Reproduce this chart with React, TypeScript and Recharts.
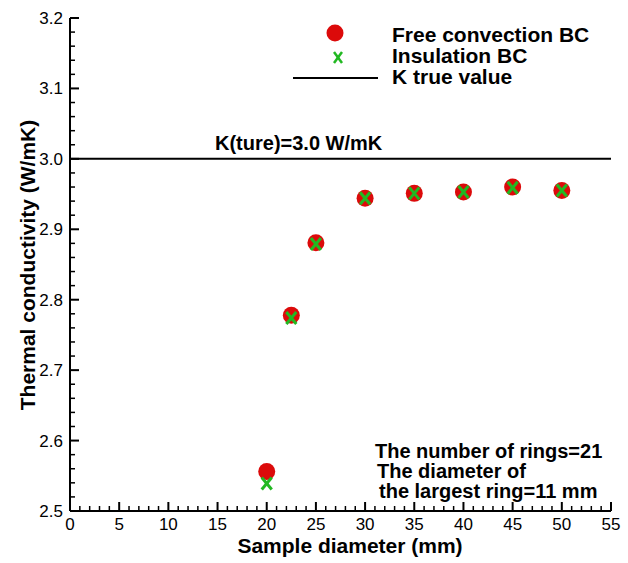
import React from 'react'
import {
  ScatterChart,
  Scatter,
  XAxis,
  YAxis,
  ReferenceLine,
  Customized
} from 'recharts'

// sample diameters (mm)
const DIAMETERS = [20, 22.5, 25, 30, 35, 40, 45, 50]
// thermal conductivity, free convection boundary
const FREE_CONV = [2.556, 2.778, 2.881, 2.944, 2.951, 2.953, 2.96, 2.955]
// thermal conductivity, insulation boundary
const INSULATION = [2.539, 2.774, 2.879, 2.944, 2.951, 2.953, 2.959, 2.955]
const K_TRUE = 3.0

const X_MAJOR = [0, 5, 10, 15, 20, 25, 30, 35, 40, 45, 50, 55]
const Y_MAJOR = [2.5, 2.6, 2.7, 2.8, 2.9, 3.0, 3.1, 3.2]

const RED = '#dc0a0a'
const GREEN = '#22b822'
const FONT = '"Liberation Sans", Arial, sans-serif'

const xTicks: number[] = []
for (let i = 0; i <= 55; i++) xTicks.push(i)
const yTicks: number[] = []
for (let i = 250; i <= 320; i += 2) yTicks.push(i / 100)

const freeData = DIAMETERS.map((d, i) => ({ x: d, y: FREE_CONV[i] }))
const insData = DIAMETERS.map((d, i) => ({ x: d, y: INSULATION[i] }))

const XTick = (props: any) => {
  const { x, y, payload } = props
  const major = X_MAJOR.includes(payload.value)
  return (
    <g>
      <line x1={x} x2={x} y1={y} y2={y - (major ? 9 : 5)} stroke='#000' strokeWidth={major ? 2 : 1.5} />
      {major && (
        <text x={x} y={y + 19} textAnchor='middle' fontSize={17} fontFamily={FONT} fill='#000'>
          {payload.value}
        </text>
      )}
    </g>
  )
}

const YTick = (props: any) => {
  const { x, y, payload } = props
  const v = Math.round(payload.value * 100)
  const major = Y_MAJOR.some((t) => Math.round(t * 100) === v)
  return (
    <g>
      <line x1={x} x2={x + (major ? 9 : 5)} y1={y} y2={y} stroke='#000' strokeWidth={major ? 2 : 1.5} />
      {major && (
        <text x={x - 7} y={y + 6} textAnchor='end' fontSize={17} fontFamily={FONT} fill='#000'>
          {(v / 100).toFixed(1)}
        </text>
      )}
    </g>
  )
}

const Dot = (props: any) => <circle cx={props.cx} cy={props.cy} r={8.5} fill={RED} />

const Cross = (props: any) => {
  const { cx, cy } = props
  return (
    <g stroke={GREEN} strokeWidth={3}>
      <line x1={cx - 5} y1={cy - 6} x2={cx + 5} y2={cy + 6} />
      <line x1={cx + 5} y1={cy - 6} x2={cx - 5} y2={cy + 6} />
    </g>
  )
}

const Annotations = () => (
  <g fontFamily={FONT} fontWeight='bold' fill='#000'>
    {/* legend */}
    <circle cx={335} cy={33} r={8.5} fill={RED} />
    <g stroke={GREEN} strokeWidth={2.5}>
      <line x1={334} y1={52} x2={342} y2={63} />
      <line x1={342} y1={52} x2={334} y2={63} />
    </g>
    <line x1={293} x2={378} y1={78} y2={78} stroke='#000' strokeWidth={2} />
    <g fontSize={21}>
      <text x={392} y={42}>Free convection BC</text>
      <text x={392} y={63}>Insulation BC</text>
      <text x={392} y={84}>K true value</text>
    </g>

    <text x={215} y={150} fontSize={20}>K(ture)=3.0 W/mK</text>

    <g fontSize={20}>
      <text x={375} y={458}>The number of rings=21</text>
      <text x={377} y={478}>The diameter of</text>
      <text x={379} y={498}>the largest ring=11 mm</text>
    </g>

    {/* axis titles */}
    <g fontSize={21}>
      <text x={350} y={553} textAnchor='middle'>Sample diameter (mm)</text>
      <text x={28} y={265} textAnchor='middle' transform='rotate(-90 28 265)' dy={7}>
        Thermal conductivity (W/mK)
      </text>
    </g>
  </g>
)

export default function App() {
  return (
    <div style={{ position: 'absolute', top: 0, left: 0, background: '#fff', width: 628, height: 563 }}>
      <ScatterChart
        width={628}
        height={563}
        margin={{ top: 18, right: 17, left: 0, bottom: 0 }}
      >
        <XAxis
          type='number'
          dataKey='x'
          domain={[0, 55]}
          ticks={xTicks}
          interval={0}
          height={52}
          tickSize={0}
          tickMargin={0}
          tick={<XTick />}
          tickLine={false}
          axisLine={{ stroke: '#000', strokeWidth: 2 }}
        />
        <XAxis
          xAxisId='top'
          orientation='top'
          type='number'
          domain={[0, 55]}
          height={0}
          tick={false}
          tickLine={false}
          axisLine={{ stroke: '#000', strokeWidth: 2 }}
        />
        <YAxis
          type='number'
          dataKey='y'
          domain={[2.5, 3.2]}
          ticks={yTicks}
          interval={0}
          width={70}
          tickSize={0}
          tickMargin={0}
          tick={<YTick />}
          tickLine={false}
          axisLine={{ stroke: '#000', strokeWidth: 2 }}
        />
        <YAxis
          yAxisId='right'
          orientation='right'
          type='number'
          domain={[2.5, 3.2]}
          width={0}
          tick={false}
          tickLine={false}
          axisLine={{ stroke: '#000', strokeWidth: 2 }}
        />
        <ReferenceLine y={K_TRUE} stroke='#000' strokeWidth={2} />
        <Scatter data={freeData} shape={<Dot />} isAnimationActive={false} />
        <Scatter data={insData} shape={<Cross />} isAnimationActive={false} />
        <Customized component={<Annotations />} />
      </ScatterChart>
    </div>
  )
}
